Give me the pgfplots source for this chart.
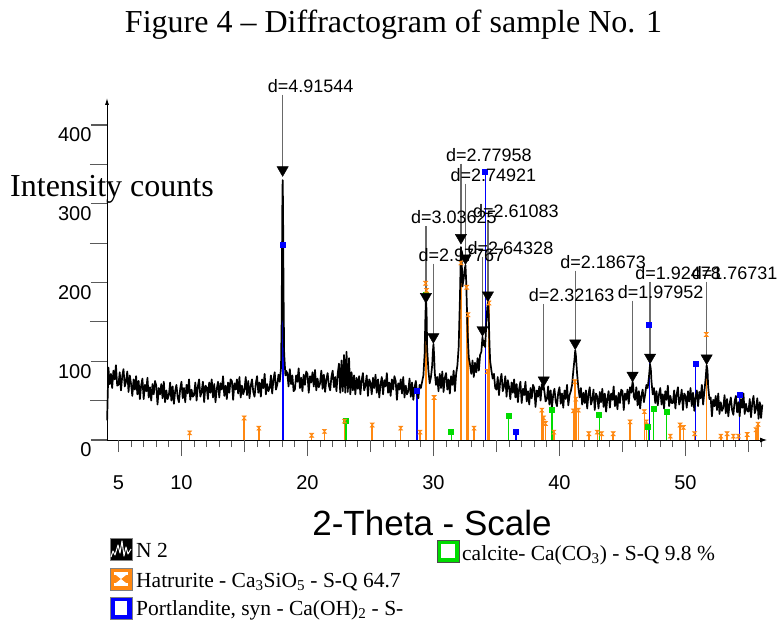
\documentclass[border=0pt]{standalone}
\usepackage{fontspec}
\setmainfont{Liberation Serif}
\newfontfamily\arial{Liberation Sans}
\usepackage{pgfplots}
\pgfplotsset{compat=1.18}
\usetikzlibrary{arrows.meta}
\definecolor{hat}{RGB}{255,136,17}
\definecolor{por}{RGB}{0,0,255}
\definecolor{cal}{RGB}{0,220,0}
\definecolor{tickgray}{RGB}{90,90,90}
\definecolor{lblgray}{RGB}{105,105,105}
\pgfdeclareplotmark{hourglass}{%
  \pgfpathmoveto{\pgfqpoint{-\pgfplotmarksize}{\pgfplotmarksize}}%
  \pgfpathlineto{\pgfqpoint{\pgfplotmarksize}{\pgfplotmarksize}}%
  \pgfpathlineto{\pgfqpoint{-\pgfplotmarksize}{-\pgfplotmarksize}}%
  \pgfpathlineto{\pgfqpoint{\pgfplotmarksize}{-\pgfplotmarksize}}%
  \pgfpathclose
  \pgfusepathqfillstroke}
\begin{document}
\begin{tikzpicture}[x=1pt,y=1pt]
\path[use as bounding box] (0,0) rectangle (780,625);
\begin{axis}[
  at={(107pt,185pt)}, anchor=south west,
  scale only axis, width=660pt, height=342pt,
  xmin=4.09, xmax=56.47, ymin=0, ymax=434.3,
  clip=false,
  axis x line=bottom, axis y line=left,
  axis line style={black, line width=0.9pt},
  every outer x axis line/.append style={-{Latex[length=7pt,width=5pt]}},
  every outer y axis line/.append style={-{Latex[length=7pt,width=4pt]}},
  tick align=outside,
  tick style={tickgray, line width=1.1pt},
  major tick length=16pt, minor tick length=7pt,
  xtick={10,20,30,40,50},
  minor xtick={5,6,...,56},
  extra x ticks={5,15,25,35,45,55},
  extra x tick labels={5,,,,,},
  extra x tick style={major tick length=12pt, xticklabel style={yshift=-4pt}},
  ytick={0,100,200,300,400},
  extra y ticks={50,150,250,350},
  extra y tick labels={,,,},
  extra y tick style={major tick length=17pt},
  /pgf/number format/assume math mode=true,
  tick label style={font=\arial\fontsize{20}{24}\selectfont, text=black},
  xticklabel style={anchor=north, yshift=-16pt},
  yticklabel style={anchor=east, xshift=4pt, yshift=-10pt},
]
% Calcite
\addplot[ycomb, cal, line width=1.3pt, mark=square*, mark size=2.3pt] coordinates {
(23.06,24)(29.42,184)(31.42,10)(35.97,31)(39.40,38)(43.15,32)(47.05,16)(47.48,39)(48.50,36)};
% Portlandite
\addplot[ycomb, por, line width=1.3pt, mark=square*, mark size=2.3pt] coordinates {
(18.05,248)(28.70,62)(34.12,340)(36.55,10)(47.12,146)(50.80,96)(54.30,57)};
% reference sticks: Hatrurite
\addplot[ycomb, hat, line width=1.5pt, mark=hourglass, mark size=2pt, mark options={hat, line width=0.6pt}] coordinates {
(10.65,9)(14.98,28)(16.14,15)(20.33,6)(21.35,11)(22.94,24)(25.14,19)(27.40,15)(28.93,10)
(29.37,199)(29.45,190)(30.05,54)(32.18,225)(32.63,194)(32.74,159)(33.22,15)(34.27,87)(34.40,174)
(38.60,38)(38.74,28)(38.88,21)(39.55,10)(41.10,37)(41.22,74)(41.30,52)(41.50,38)(42.33,8)(43.00,10)
(43.34,8)(44.26,8)(45.60,23)(46.73,36)(46.90,23)(48.80,5)(49.57,19)(49.84,16)(50.72,8)(51.65,134)
(52.80,5)(53.30,8)(53.80,5)(54.20,5)(54.90,7)(55.60,13)(55.76,20)};
% measured pattern N 2
\addplot[black, line width=1.7pt, line join=round, mark=none] coordinates {
(4.1,25)(4.2,92)(4.3,71)(4.4,84)(4.5,66)(4.6,88)(4.7,77)(4.8,95)(4.9,69)
(5.0,70)(5.1,86)(5.2,63)(5.3,81)(5.4,90)(5.5,68)(5.6,74)(5.7,87)(5.8,61)(5.9,82)
(6.0,71)(6.1,56)(6.2,77)(6.3,64)(6.4,81)(6.5,58)(6.6,75)(6.7,52)(6.8,69)(6.9,78)
(7.0,52)(7.1,70)(7.2,62)(7.3,79)(7.4,54)(7.5,67)(7.6,50)(7.7,71)(7.8,58)(7.9,75)
(8.0,69)(8.1,45)(8.2,66)(8.3,58)(8.4,71)(8.5,53)(8.6,74)(8.7,48)(8.8,63)(8.9,52)
(9.0,57)(9.1,73)(9.2,50)(9.3,68)(9.4,46)(9.5,62)(9.6,70)(9.7,54)(9.8,48)(9.9,65)
(10.0,74)(10.1,53)(10.2,66)(10.3,48)(10.4,70)(10.5,59)(10.6,77)(10.7,51)(10.8,64)(10.9,55)
(11.0,57)(11.1,73)(11.2,50)(11.3,68)(11.4,77)(11.5,55)(11.6,61)(11.7,74)(11.8,48)(11.9,69)
(12.0,67)(12.1,52)(12.2,73)(12.3,60)(12.4,77)(12.5,54)(12.6,71)(12.7,48)(12.8,65)(12.9,74)
(13.0,54)(13.1,72)(13.2,64)(13.3,81)(13.4,56)(13.5,69)(13.6,52)(13.7,73)(13.8,60)(13.9,77)
(14.0,75)(14.1,51)(14.2,72)(14.3,64)(14.4,77)(14.5,59)(14.6,80)(14.7,54)(14.8,69)(14.9,58)
(15.0,64)(15.1,80)(15.2,57)(15.3,75)(15.4,53)(15.5,69)(15.6,77)(15.7,61)(15.8,55)(15.9,72)
(16.0,81)(16.1,60)(16.2,73)(16.3,55)(16.4,77)(16.5,66)(16.6,84)(16.7,58)(16.8,71)(16.9,62)
(17.0,66)(17.1,82)(17.2,59)(17.3,77)(17.4,86)(17.5,64)(17.6,70)(17.7,83)
(17.8,74)(17.9,92)(17.95,150)(18.0,290)(18.03,330)(18.06,300)(18.1,190)(18.15,110)(18.2,96)(18.25,82)(18.3,88)
(18.4,85)(18.5,68)(18.6,90)(18.7,71)(18.8,82)(18.9,62)
(19.0,64)(19.1,82)(19.2,74)(19.3,91)(19.4,66)(19.5,79)(19.6,62)(19.7,83)(19.8,70)(19.9,87)
(20.0,84)(20.1,60)(20.2,81)(20.3,73)(20.4,86)(20.5,68)(20.6,89)(20.7,63)(20.8,78)(20.9,67)
(21.0,72)(21.1,88)(21.2,65)(21.3,83)(21.4,61)(21.5,77)(21.6,85)(21.7,69)(21.8,63)(21.9,80)
(22.0,88)(22.1,67)(22.2,80)(22.3,62)(22.4,84)(22.5,97)(22.6,60)(22.7,101)(22.8,62)(22.9,108)
(23.0,60)(23.1,112)(23.2,61)(23.3,104)(23.4,58)(23.5,86)(23.6,63)(23.7,82)(23.8,58)(23.9,79)
(24.0,65)(24.1,81)(24.2,58)(24.3,76)(24.4,85)(24.5,63)(24.6,69)(24.7,82)(24.8,56)(24.9,77)
(25.0,73)(25.1,58)(25.2,79)(25.3,66)(25.4,83)(25.5,60)(25.6,77)(25.7,54)(25.8,71)(25.9,80)
(26.0,58)(26.1,76)(26.2,68)(26.3,85)(26.4,60)(26.5,73)(26.6,56)(26.7,77)(26.8,64)(26.9,81)
(27.0,75)(27.1,51)(27.2,72)(27.3,64)(27.4,77)(27.5,59)(27.6,80)(27.7,54)(27.8,69)(27.9,58)
(28.0,62)(28.1,78)(28.2,55)(28.3,73)(28.4,51)(28.5,67)(28.6,75)(28.7,59)(28.8,53)(28.9,70)
(29.0,66)(29.1,74)(29.2,82)(29.3,110)(29.35,150)(29.4,180)(29.45,165)(29.5,115)(29.6,88)(29.7,72)
(29.8,80)(29.9,95)(29.95,112)(30.0,122)(30.05,108)(30.1,86)(30.2,70)(30.3,80)
(30.4,62)(30.5,84)(30.6,66)(30.7,87)(30.8,61)(30.9,79)
(31.0,85)(31.1,64)(31.2,77)(31.3,59)(31.4,81)(31.5,70)(31.6,88)(31.7,62)
(31.8,84)(31.9,95)(32.0,118)(32.1,180)(32.18,245)(32.25,222)(32.3,195)(32.4,205)(32.45,214)(32.54,222)
(32.6,200)(32.7,140)(32.8,105)(32.9,96)
(33.0,84)(33.1,101)(33.2,80)(33.3,98)(33.4,86)(33.5,104)(33.6,88)(33.7,108)(33.8,112)(33.89,131)
(33.95,120)(34.0,126)(34.1,118)(34.2,150)(34.27,168)(34.32,175)(34.38,160)(34.45,120)(34.5,100)(34.6,88)(34.7,78)
(34.8,84)(34.9,66)
(35.0,64)(35.1,80)(35.2,57)(35.3,75)(35.4,84)(35.5,62)(35.6,68)(35.7,81)(35.8,55)(35.9,76)
(36.0,67)(36.1,52)(36.2,73)(36.3,60)(36.4,77)(36.5,54)(36.6,71)(36.7,48)(36.8,65)(36.9,74)
(37.0,47)(37.1,65)(37.2,57)(37.3,74)(37.4,49)(37.5,62)(37.6,45)(37.7,66)(37.8,53)(37.9,70)
(38.0,66)(38.1,42)(38.2,63)(38.3,55)(38.4,68)(38.5,50)(38.6,71)(38.7,64)(38.75,68)(38.8,62)(38.9,49)
(39.0,52)(39.1,68)(39.2,45)(39.3,63)(39.4,41)(39.5,57)(39.6,65)(39.7,49)(39.8,43)(39.9,60)
(40.0,67)(40.1,46)(40.2,59)(40.3,41)(40.4,63)(40.5,52)(40.6,70)(40.7,44)(40.8,57)(40.9,62)
(41.0,70)(41.1,88)(41.2,104)(41.25,114)(41.3,108)(41.4,84)(41.5,66)(41.6,54)(41.7,66)(41.8,45)(41.9,60)
(42.0,47)(42.1,63)(42.2,40)(42.3,58)(42.4,67)(42.5,45)(42.6,51)(42.7,64)(42.8,38)(42.9,59)
(43.0,55)(43.1,40)(43.2,61)(43.3,48)(43.4,65)(43.5,42)(43.6,59)(43.7,36)(43.8,53)(43.9,62)
(44.0,41)(44.1,59)(44.2,51)(44.3,68)(44.4,43)(44.5,56)(44.6,39)(44.7,60)(44.8,47)(44.9,64)
(45.0,62)(45.1,38)(45.2,59)(45.3,51)(45.4,64)(45.5,46)(45.6,67)(45.7,60)(45.8,74)(45.85,70)(45.9,55)
(46.0,51)(46.1,67)(46.2,44)(46.3,62)(46.4,40)(46.5,56)(46.6,64)(46.7,48)(46.8,58)(46.9,70)
(47.0,66)(47.1,80)(47.19,96)(47.25,90)(47.3,75)(47.4,58)(47.5,66)(47.6,47)(47.7,62)(47.8,44)(47.9,58)
(48.0,66)(48.1,45)(48.2,58)(48.3,40)(48.4,62)(48.5,51)(48.6,69)(48.7,43)(48.8,56)(48.9,47)
(49.0,47)(49.1,63)(49.2,40)(49.3,58)(49.4,67)(49.5,45)(49.6,51)(49.7,64)(49.8,38)(49.9,59)
(50.0,56)(50.1,41)(50.2,62)(50.3,49)(50.4,66)(50.5,43)(50.6,60)(50.7,37)(50.8,54)(50.9,63)
(51.0,43)(51.1,61)(51.2,53)(51.3,70)(51.4,45)(51.5,62)(51.6,78)(51.68,95)(51.75,88)(51.8,68)(51.9,52)
(52.0,54)(52.1,30)(52.2,51)(52.3,43)(52.4,56)(52.5,38)(52.6,59)(52.7,33)(52.8,48)(52.9,37)
(53.0,41)(53.1,57)(53.2,34)(53.3,52)(53.4,30)(53.5,46)(53.6,54)(53.7,38)(53.8,32)(53.9,49)
(54.0,56)(54.1,35)(54.2,48)(54.3,30)(54.4,52)(54.5,41)(54.6,59)(54.7,33)(54.8,46)(54.9,37)
(55.0,36)(55.1,52)(55.2,29)(55.3,47)(55.4,56)(55.5,34)(55.6,40)(55.7,53)(55.8,27)(55.9,48)
(56.0,28)(56.1,45)};
% peak label leader lines
\addplot[lblgray, line width=1.2pt, unbounded coords=jump, mark=none] coordinates {
(18.03,438.5)(18.03,343)(18.03,nan)
(29.40,272)(29.40,182)(29.40,nan)
(29.99,224)(29.99,131)(29.99,nan)
(32.18,351)(32.18,257)(32.18,nan)
(32.54,325.5)(32.54,231)(32.54,nan)
(33.89,233)(33.89,140)(33.89,nan)
(34.32,280)(34.32,184)(34.32,nan)
(38.75,173)(38.75,76)(38.75,nan)
(41.25,215)(41.25,123)(41.25,nan)
(45.80,177)(45.80,82)(45.80,nan)
(47.19,201)(47.19,105)(47.19,nan)
(51.68,201)(51.68,104)};
% peak markers
\addplot[only marks, mark=triangle*, mark size=6.5pt, mark options={rotate=180, fill=black, draw=black}] coordinates {
(18.03,343)(29.40,182)(29.99,131)(32.18,257)(32.54,231)(33.89,140)(34.32,184)
(38.75,76)(41.25,123)(45.80,82)(47.19,105)(51.68,104)};
% peak labels
\addplot[draw=none, mark=none, nodes near coords, point meta=explicit symbolic,
  nodes near coords style={anchor=base west, xshift=-15pt, inner sep=0pt, text=black,
  font=\arial\fontsize{18}{20}\selectfont}] table[meta=lab] {
x y lab
18.03 441.3 d=4.91544
29.40 274.9 d=3.03625
29.99 226.7 d=2.97767
32.18 353.7 d=2.77958
32.54 328.3 d=2.74921
33.89 235.6 d=2.64328
34.32 282.5 d=2.61083
38.75 175.9 d=2.32163
41.25 217.8 d=2.18673
45.80 179.7 d=1.97952
47.19 203.8 d=1.92478
51.68 203.8 d=1.76731
};
\end{axis}
% titles
\node[anchor=base, inner sep=0pt, font=\fontsize{32}{36}\selectfont] at (393.5,592) {Figure 4 – Diffractogram of sample No. 1};
\node[anchor=base west, inner sep=0pt, font=\fontsize{32}{36}\selectfont] at (10,428) {Intensity counts};
\node[anchor=base, inner sep=0pt, font=\arial\fontsize{35}{40}\selectfont] at (432,90) {2-Theta - Scale};
% legend
\fill[black] (110,65) rectangle (132,87);
\draw[gray, line width=0.8pt] (110,65) rectangle (132,87);
\draw[white, line width=1pt, line join=round] (111,68)--(113,74)--(115,70)--(118,80)--(120,72)--(122,84)--(124,69)--(126,78)--(128,71)--(131,76);
\node[anchor=base west, inner sep=0pt, font=\fontsize{21.5}{24}\selectfont] at (136,68) {N 2};
\filldraw[fill=hat, draw=gray, line width=0.8pt] (110,35) rectangle (132,57);
\fill[white] (114,50) rectangle (128,53);
\fill[white] (114,39) rectangle (128,42);
\fill[white] (116,50)--(126,50)--(121,46)--cycle;
\fill[white] (116,42)--(126,42)--(121,46)--cycle;
\node[anchor=base west, inner sep=0pt, font=\fontsize{21.5}{24}\selectfont] at (136,38) {Hatrurite - Ca\textsubscript{3}SiO\textsubscript{5} - S-Q 64.7};
\filldraw[fill=por, draw=gray, line width=0.8pt] (110,6) rectangle (132,28);
\fill[white] (115,10) rectangle (127,24);
\node[anchor=base west, inner sep=0pt, font=\fontsize{21.5}{24}\selectfont] at (136,10) {Portlandite, syn - Ca(OH)\textsubscript{2} - S-};
\filldraw[fill=cal, draw=gray!60!black, line width=0.8pt] (437,63) rectangle (459,85);
\fill[white] (441,67) rectangle (455,81);
\node[anchor=base west, inner sep=0pt, font=\fontsize{21.5}{24}\selectfont] at (462,65) {calcite- Ca(CO\textsubscript{3}) - S-Q 9.8 \%};
\end{tikzpicture}
\end{document}
